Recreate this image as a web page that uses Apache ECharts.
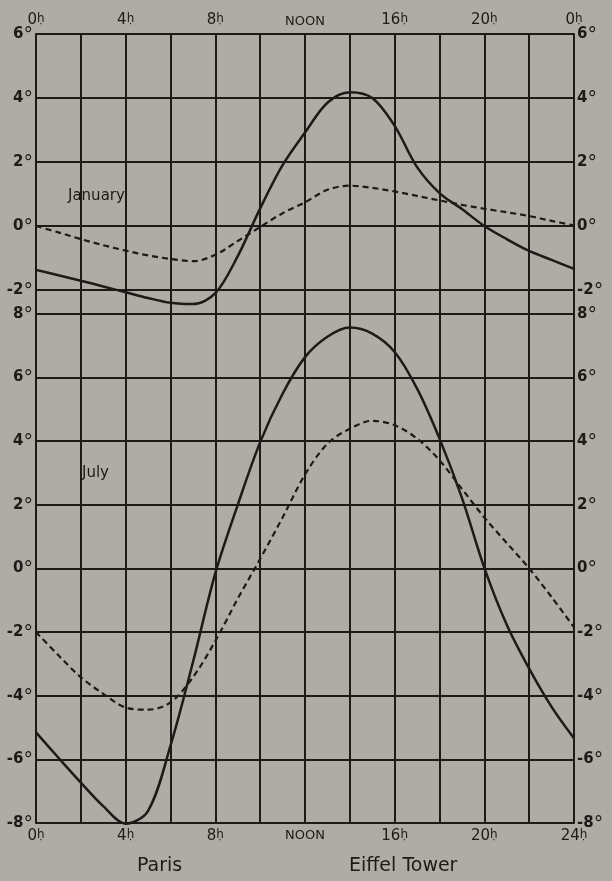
<!DOCTYPE html>
<html>
<head>
<meta charset="utf-8">
<script src="https://cdn.jsdelivr.net/npm/echarts@6/dist/echarts.min.js"></script>
<style>
  html, body { margin: 0; padding: 0; background: #afaca5; }
  #chart { width: 612px; height: 881px; }
</style>
</head>
<body>
<div id="chart"></div>
<script>
// hours of the day, one reading every hour
var hours = [0,1,2,3,4,5,6,7,8,9,10,11,12,13,14,15,16,17,18,19,20,21,22,23,24];

// January, departures from the daily mean (degrees)
var janParis  = [-1.37,-1.54,-1.71,-1.89,-2.07,-2.25,-2.4,-2.44,-2.1,-0.94,0.55,1.9,2.92,3.85,4.18,4.0,3.13,1.84,1.03,0.53,0.0,-0.41,-0.78,-1.06,-1.34];
var janTower  = [0,-0.2,-0.41,-0.6,-0.77,-0.92,-1.03,-1.1,-0.9,-0.47,-0.03,0.4,0.74,1.13,1.26,1.19,1.08,0.94,0.8,0.66,0.54,0.43,0.31,0.16,0.02];

// July
var julParis  = [-5.15,-5.95,-6.73,-7.47,-8.02,-7.62,-5.57,-2.95,-0.15,2.0,3.97,5.49,6.64,7.28,7.57,7.38,6.8,5.65,4.08,2.22,0.02,-1.77,-3.15,-4.35,-5.34];
var julTower  = [-2.0,-2.73,-3.42,-3.94,-4.37,-4.44,-4.21,-3.42,-2.28,-0.95,0.3,1.6,2.95,3.92,4.39,4.64,4.5,4.08,3.4,2.5,1.6,0.8,0.0,-0.9,-1.85];

var ink = '#1d1a18';
var font = 'DejaVu Sans';

function pairs(vals) {
  return hours.map(function (h, i) { return [h, vals[i]]; });
}

function hourLabel(last) {
  return function (v) {
    if (v % 4 !== 0) return '';
    if (v === 12) return '{w|NOON}';
    return '{n|' + (v === 24 ? last : v) + '}{h|ḥ}';
  };
}
function degLabel(v) {
  if (v % 2 !== 0) return '';
  return '{n|' + v + '}{d|°}';
}

var hourRich = {
  n: { fontFamily: font, fontSize: 15, color: ink },
  h: { fontFamily: font, fontSize: 12, color: ink, verticalAlign: 'top', lineHeight: 12 },
  w: { fontFamily: font, fontSize: 13, color: ink }
};
var degRich = {
  n: { fontFamily: font, fontSize: 15, color: ink, fontWeight: 'bold' },
  d: { fontFamily: font, fontSize: 19, color: ink, verticalAlign: 'top', lineHeight: 14 }
};

function xAxisFor(grid, pos, last) {
  return {
    type: 'value', gridIndex: grid, position: pos, min: 0, max: 24, interval: 2,
    axisLine: { show: true, lineStyle: { color: ink, width: 2 } },
    axisTick: { show: false },
    splitLine: { show: true, lineStyle: { color: ink, width: 2 } },
    axisLabel: { margin: 6, formatter: hourLabel(last), rich: hourRich }
  };
}
function yAxisFor(grid, pos, min, max) {
  return {
    type: 'value', gridIndex: grid, position: pos, min: min, max: max, interval: 2,
    axisLine: { show: true, lineStyle: { color: ink, width: 2 } },
    axisTick: { show: false },
    splitLine: { show: pos === 'left', lineStyle: { color: ink, width: 2 } },
    axisLabel: { margin: 3, formatter: degLabel, rich: degRich }
  };
}

function curve(name, xi, yi, vals, dashed) {
  return {
    name: name, type: 'line', xAxisIndex: xi, yAxisIndex: yi, data: pairs(vals),
    clip: false, smooth: 0.33, showSymbol: false,
    lineStyle: { color: ink, width: dashed ? 2.2 : 2.5, type: dashed ? [6, 4] : 'solid' }
  };
}

var myChart = echarts.init(document.getElementById('chart'), null, { renderer: 'canvas' });

myChart.setOption({
  backgroundColor: '#afaca5',
  animation: false,
  grid: [
    { left: 36, right: 38, top: 34, height: 256 },
    { left: 36, right: 38, top: 290, bottom: 58 }
  ],
  xAxis: [
    xAxisFor(0, 'top', '0'),
    xAxisFor(1, 'bottom', '24')
  ],
  yAxis: [
    yAxisFor(0, 'left', -2, 6),
    yAxisFor(0, 'right', -2, 6),
    yAxisFor(1, 'left', -8, 8.75),
    yAxisFor(1, 'right', -8, 8.75)
  ],
  series: [
    curve('January Paris', 0, 0, janParis, false),
    curve('January Eiffel Tower', 0, 0, janTower, true),
    curve('July Paris', 1, 2, julParis, false),
    curve('July Eiffel Tower', 1, 2, julTower, true)
  ],
  graphic: [
    { type: 'text', left: 68, top: 189, style: { text: 'January', fontFamily: font, fontSize: 15, fill: ink } },
    { type: 'text', left: 82, top: 466, style: { text: 'July', fontFamily: font, fontSize: 15, fill: ink } },
    { type: 'text', left: 137, top: 857, style: { text: 'Paris', fontFamily: font, fontSize: 19, fill: ink } },
    { type: 'text', left: 349, top: 857, style: { text: 'Eiffel Tower', fontFamily: font, fontSize: 19, fill: ink } }
  ]
});
</script>
</body>
</html>
